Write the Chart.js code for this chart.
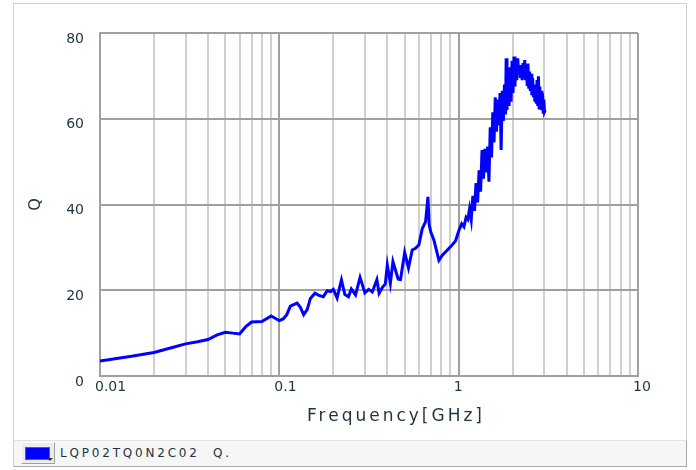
<!DOCTYPE html>
<html>
<head>
<meta charset="utf-8">
<script src="https://cdn.jsdelivr.net/npm/chart.js@4.4.1/dist/chart.umd.min.js"></script>
<style>
  html, body { margin: 0; padding: 0; background: #ffffff; }
  #wrap { position: relative; width: 696px; height: 470px; overflow: hidden; background: #fff; }
  #frame { position: absolute; left: 13px; top: 3px; width: 674px; height: 464px; border: 1px solid #d0d0d0; box-sizing: border-box; }
  #chart { position: absolute; left: 0; top: 0; }
  #xtitle { position: absolute; left: 290px; width: 212px; top: 405px; text-align: center;
            font-family: "DejaVu Sans", sans-serif; font-size: 17px; letter-spacing: 3px; color: #1e3440; }
  #legend { position: absolute; left: 14px; top: 440px; width: 673px; height: 27px; box-sizing: border-box;
            background: #f6f6f6; border-top: 1px solid #e2e2e2; border-right: 1px solid #a8a8a8; border-bottom: 1px solid #a8a8a8; }
  #swatch { position: absolute; left: 7px; top: 1px; width: 34px; height: 22px; box-sizing: border-box;
            background: #ececec; border: 1px solid #ffffff; border-right-color: #a0a0a0; border-bottom-color: #a0a0a0; }
  #swatch .fill { position: absolute; left: 3px; top: 4px; width: 25px; height: 13px; background: #0000ff; border: 1px solid #606060; box-sizing: border-box; }
  #swatch .arrow { position: absolute; left: 25px; top: 15px; width: 0; height: 0; border-left: 3px solid transparent; border-right: 3px solid transparent; border-top: 3px solid #303030; }
  #legtext { position: absolute; left: 46px; top: 5px; font-family: "DejaVu Sans", sans-serif; font-size: 12px; letter-spacing: 2.8px; color: #1e3440; white-space: pre; }
</style>
</head>
<body>
<div id="wrap">
  <div id="frame"></div>
  <canvas id="chart" width="696" height="440"></canvas>
  <div id="xtitle">Frequency[GHz]</div>
  <div id="legend"><div id="swatch"><div class="fill"></div><div class="arrow"></div></div><div id="legtext">LQP02TQ0N2C02  Q.</div></div>
</div>
<script>
// ---- data ----
const seriesName = "LQP02TQ0N2C02  Q.";
const xTitle = "Frequency[GHz]";
const yTitle = "Q";
const freqGHz = [
  0.01,0.015,0.02,0.025,0.03,0.035,0.04,0.045,0.05,0.055,0.06,0.065,0.07,0.08,0.09,0.1,0.105,0.11,
  0.1152,0.1256,0.131,0.1367,0.143,0.149,0.158,0.166,0.176,0.185,0.193,0.2,0.21,0.222,0.232,0.243,
  0.252,0.266,0.282,0.3,0.315,0.33,0.35,0.36,0.375,0.39,0.40,0.416,0.43,0.46,0.474,0.50,0.525,0.551,
  0.575,0.60,0.627,0.654,0.674,0.685,0.70,0.728,0.776,0.811,0.865,0.922,0.96,1.004,1.04,1.07,1.10,1.125,
  1.150,1.175,1.200,1.225,1.250,1.275,1.300,1.325,1.350,1.375,1.400,1.425,1.450,1.475,1.500,1.525,
  1.550,1.575,1.600,1.625,1.650,1.675,1.700,1.725,1.750,1.775,1.800,1.825,1.840,1.860,1.885,1.910,
  1.935,1.960,1.985,2.010,2.035,2.060,2.085,2.110,2.135,2.160,2.185,2.210,2.235,2.260,2.285,2.310,
  2.335,2.360,2.385,2.410,2.435,2.460,2.485,2.510,2.535,2.560,2.585,2.610,2.635,2.660,2.685,2.710,
  2.735,2.760,2.785,2.810,2.835,2.860,2.885,2.910,2.935,2.960,2.985,3.010,3.040
];
const qValues = [
  3.5,4.6,5.5,6.6,7.5,8.0,8.5,9.6,10.2,10.0,9.8,11.5,12.6,12.7,14.0,12.9,13.3,14.3,
  16.3,17.0,16.0,14.3,15.5,18.1,19.3,18.8,18.5,19.9,19.7,20.2,18.2,22.4,19.0,18.5,
  20.3,18.9,23.0,19.4,20.2,19.6,22.5,19.3,20.6,21.5,25.9,21.6,26.7,22.6,22.5,28.8,25.2,29.4,
  29.8,30.6,34.4,36.0,41.8,35.2,33.5,31.7,27.0,28.2,29.4,30.6,31.5,34.0,35.5,34.8,37.0,36.5,
  39.0,36.5,42.0,38.5,45.0,40.5,48.0,43.0,52.7,46.0,53.0,47.5,53.5,45.3,58.0,51.0,
  61.5,54.5,65.0,57.0,64.5,58.5,66.0,52.7,66.5,59.5,68.0,61.0,74.1,62.0,71.0,63.0,
  72.0,64.0,73.5,66.0,74.5,67.5,73.5,69.0,74.1,70.5,72.5,69.5,72.5,69.0,73.0,69.5,
  73.7,69.0,72.5,68.0,72.9,67.0,71.0,66.5,70.5,65.5,69.5,65.0,67.5,64.0,68.0,63.5,
  69.0,63.0,69.9,62.5,67.5,62.5,66.5,62.0,65.9,61.5,64.5,61.6,62.0
];
const xTickValues = [
  0.01,0.02,0.03,0.04,0.05,0.06,0.07,0.08,0.09,
  0.1,0.2,0.3,0.4,0.5,0.6,0.7,0.8,0.9,
  1,2,3,4,5,6,7,8,9,10
];
const xTickLabels = { 0.01: "0.01", 0.1: "0.1", 1: "1", 10: "10" };
const yTickValues = [0, 20, 40, 60, 80];

// ---- chart ----
const tickColor = "#1e3440";
const isDecade = v => Math.abs(Math.log10(v) - Math.round(Math.log10(v))) < 1e-6;

new Chart(document.getElementById("chart"), {
  type: "scatter",
  data: {
    datasets: [{
      label: seriesName,
      data: freqGHz.map((f, i) => ({ x: f, y: qValues[i] })),
      showLine: true,
      borderColor: "#0000ff",
      backgroundColor: "#0000ff",
      borderWidth: 3,
      pointRadius: 0,
      tension: 0
    }]
  },
  options: {
    responsive: false,
    animation: false,
    devicePixelRatio: 1,
    layout: { padding: { left: 22, right: 58, top: 33, bottom: 34 } },
    plugins: { legend: { display: false }, tooltip: { enabled: false } },
    scales: {
      x: {
        type: "logarithmic",
        min: 0.01, max: 10,
        afterBuildTicks: s => { s.ticks = xTickValues.map(v => ({ value: v })); },
        afterFit: s => { s.height = 30; },
        ticks: {
          autoSkip: false, maxRotation: 0, align: "start", labelOffset: -5, padding: 3,
          color: tickColor, font: { family: "DejaVu Sans", size: 14 },
          callback: v => xTickLabels[v] !== undefined ? xTickLabels[v] : (isDecade(v) ? String(v) : "")
        },
        grid: {
          drawTicks: false,
          lineWidth: 2,
          color: c => (c.tick && isDecade(c.tick.value)) ? "#a0a0a0" : "#cfcfcf"
        },
        border: { color: "#a0a0a0", width: 2 }
      },
      y: {
        type: "linear",
        min: 0, max: 80,
        afterBuildTicks: s => { s.ticks = yTickValues.map(v => ({ value: v })); },
        afterFit: s => { s.width = 78; },
        title: { display: true, text: yTitle, color: tickColor, font: { family: "DejaVu Sans", size: 16 }, padding: { top: 4, bottom: 4 } },
        ticks: { padding: 16, labelOffset: 6, color: tickColor, font: { family: "DejaVu Sans", size: 14 } },
        grid: { drawTicks: false, lineWidth: 2, color: "#a0a0a0" },
        border: { color: "#a0a0a0", width: 2 }
      }
    }
  }
});
</script>
</body>
</html>
